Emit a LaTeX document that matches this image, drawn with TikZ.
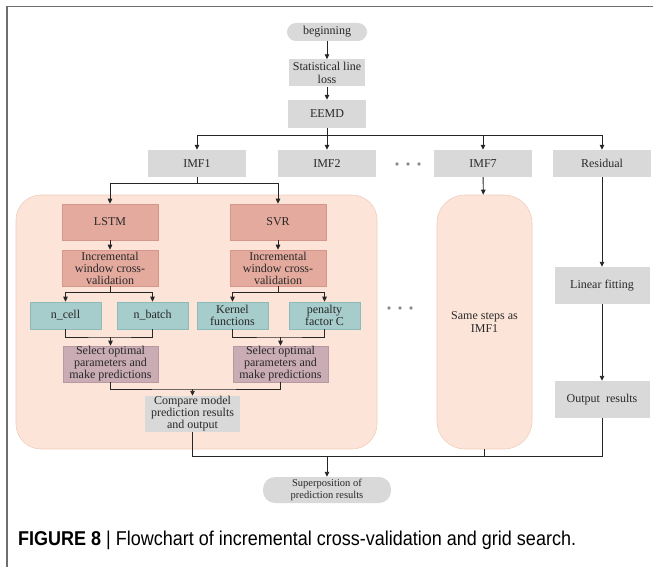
\documentclass[tikz,border=0pt]{standalone}
\usepackage{fontspec}
\usepackage{graphicx}
\setmainfont{Liberation Serif}
\newfontfamily\capfont{Liberation Sans}
\usetikzlibrary{arrows.meta}
\definecolor{boxgray}{RGB}{217,217,217}
\definecolor{peach}{RGB}{252,229,216}
\definecolor{peachline}{RGB}{240,205,190}
\definecolor{salmon}{RGB}{228,170,158}
\definecolor{salmonline}{RGB}{214,150,138}
\definecolor{teal}{RGB}{166,204,203}
\definecolor{tealline}{RGB}{140,186,185}
\definecolor{mauve}{RGB}{202,172,181}
\definecolor{mauveline}{RGB}{185,152,162}
\definecolor{txt}{RGB}{40,40,40}
\definecolor{framec}{RGB}{110,110,110}
\begin{document}
\begin{tikzpicture}[x=1pt,y=-1pt,
  base/.style={align=center, inner sep=0.5pt, text=txt, font=\fontsize{12}{12}\selectfont},
  graybox/.style={base, fill=boxgray, minimum width=96pt, minimum height=27pt},
  pill/.style={base, fill=boxgray, rounded corners=9pt},
  redbox/.style={base, fill=salmon, draw=salmonline, line width=0.6pt, minimum width=96pt, minimum height=36pt},
  tealbox/.style={base, fill=teal, draw=tealline, line width=0.6pt, minimum width=71pt, minimum height=27pt},
  mauvebox/.style={base, fill=mauve, draw=mauveline, line width=0.6pt, minimum width=95pt, minimum height=36pt},
  panel/.style={base, fill=peach, draw=peachline, line width=0.6pt},
  conn/.style={draw=black!85, line width=0.9pt},
  arr/.style={conn, -{Triangle[length=5pt,width=4.5pt]}},
  dot/.style={fill=black!45}
]
\useasboundingbox (0,0) rectangle (653,567);
\draw[framec, line width=1.6pt] (7,567) -- (7,6.5) -- (653,6.5);

% panels
\node[panel, minimum width=361pt, minimum height=254pt, rounded corners=25pt] (bigbox) at (196.5,322) {};
\node[panel, minimum width=95pt, minimum height=254pt, rounded corners=28pt, font=\fontsize{12}{13}\selectfont] (same) at (484.5,322) {Same steps as\\IMF1};

% top column
\node[pill, minimum width=80pt, minimum height=18pt] (begin) at (327,32) {beginning};
\node[graybox, minimum width=76pt, font=\fontsize{12}{12.5}\selectfont] (sll) at (327,73) {Statistical line\\loss};
\node[graybox, minimum width=78pt, minimum height=28pt] (eemd) at (327,114) {EEMD};

% IMF row
\node[graybox, minimum width=98pt] (imf1) at (197,163.5) {IMF1};
\node[graybox, minimum width=98pt] (imf2) at (327,163.5) {IMF2};
\node[graybox, minimum width=98pt] (imf7) at (483,163.5) {IMF7};
\node[graybox, minimum width=98pt] (res) at (602,163.5) {Residual};
\foreach \xx in {397,408,419} \fill[dot] (\xx,164) circle (1.8pt);
\foreach \xx in {389,400,411} \fill[dot] (\xx,308) circle (1.8pt);

% inside big panel
\node[redbox] (lstm) at (110,222) {LSTM};
\node[redbox] (svr) at (278,222) {SVR};
\node[redbox] (inc1) at (110,268) {Incremental\\window cross-\\validation};
\node[redbox] (inc2) at (278,268) {Incremental\\window cross-\\validation};
\node[tealbox] (ncell) at (65.5,315.5) {n\_cell};
\node[tealbox] (nbatch) at (152.5,315.5) {n\_batch};
\node[tealbox] (kern) at (232.5,315.5) {Kernel\\functions};
\node[tealbox] (pen) at (324.5,315.5) {penalty\\factor C};
\node[mauvebox] (sel1) at (110.5,364) {Select optimal\\parameters and\\make predictions};
\node[mauvebox] (sel2) at (280.5,364) {Select optimal\\parameters and\\make predictions};
\node[graybox, minimum width=95pt, minimum height=36pt] (cmp) at (192.5,414) {Compare model\\prediction results\\and output};

% right column
\node[graybox, minimum width=95pt, minimum height=37pt] (lin) at (602,285.5) {Linear fitting};
\node[graybox, minimum width=95pt, minimum height=37pt] (out) at (602,399.5) {Output~~results};

% bottom
\node[pill, minimum width=128pt, minimum height=26pt, rounded corners=12pt, font=\fontsize{10.5}{11.5}\selectfont] (sup) at (327,490) {Superposition of\\prediction results};

% caption
\node[anchor=base west, inner sep=0pt, font=\capfont\fontsize{20}{22}\selectfont] (cap) at (18,545)
  {\scalebox{0.9}[1]{\textbf{FIGURE 8} | Flowchart of incremental cross-validation and grid search.}};

% connectors top
\draw[arr] (begin) -- (sll);
\draw[arr] (sll) -- (eemd);
\coordinate (h0) at (327,135);
\draw[arr] (eemd) -- (imf2);
\draw[arr] (h0) -| (imf1.north);
\draw[arr] (h0) -| (imf7.north);
\draw[arr] (h0) -| (res.north);

% IMF1 split
\coordinate (s1) at (197,183);
\draw[conn] (imf1.south) -- (s1);
\draw[arr] (s1) -| (lstm.north);
\draw[arr] (s1) -| (svr.north);
\draw[arr] (lstm) -- (inc1);
\draw[arr] (svr) -- (inc2);

\coordinate (b1) at (110,292);
\coordinate (b2) at (278,292);
\draw[conn] (inc1.south) -- (b1);
\draw[conn] (inc2.south) -- (b2);
\draw[arr] (b1) -| (ncell.north);
\draw[arr] (b1) -| (nbatch.north);
\draw[arr] (b2) -| (kern.north);
\draw[arr] (b2) -| (pen.north);

\coordinate (m1) at (110.5,337);
\coordinate (m2) at (280.5,337);
\draw[conn] (ncell.south) |- (m1) -| (nbatch.south);
\draw[conn] (kern.south) |- (m2) -| (pen.south);
\draw[arr] (m1) -- (sel1.north);
\draw[arr] (m2) -- (sel2.north);

\coordinate (m3) at (192.5,389);
\draw[conn] (sel1.south) |- (m3) -| (sel2.south);
\draw[arr] (m3) -- (cmp.north);

% right column and IMF7
\draw[arr] (imf7) -- (same);
\draw[arr] (res) -- (lin);
\draw[arr] (lin) -- (out);

% bottom merge
\coordinate (j0) at (192.5,456);
\coordinate (j1) at (327,456);
\coordinate (j2) at (484.5,456);
\coordinate (j3) at (602,456);
\draw[conn] (cmp.south) -- (j0) -- (j3) -- (out.south);
\draw[conn] (same.south) -- (j2);
\draw[arr] (j1) -- (sup.north);
\end{tikzpicture}
\end{document}
